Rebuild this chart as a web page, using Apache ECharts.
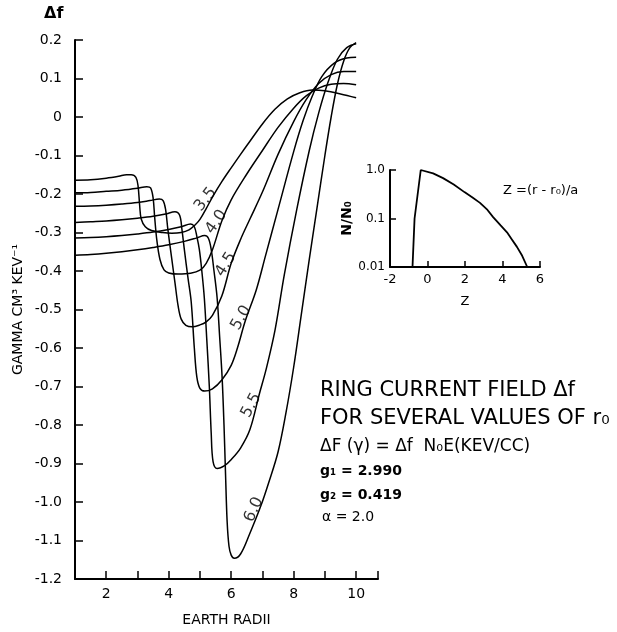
<!DOCTYPE html>
<html><head><meta charset="utf-8">
<script src="https://cdn.jsdelivr.net/npm/echarts@6/dist/echarts.min.js"></script>
<style>html,body{margin:0;padding:0;background:#fff}#c{width:617px;height:632px}</style>
</head><body><div id="c"></div>
<script>
// ---- data ----
const r0Values = ['3.5', '4.0', '4.5', '5.0', '5.5', '6.0'];

const x35 = [1, 1.5, 2.0, 2.4, 2.65, 2.8, 2.95, 3.02, 3.07, 3.12, 3.25, 3.45, 3.8, 4.1, 4.4, 4.65, 4.85, 5.0, 5.2, 5.4, 5.7, 6.0, 6.3, 6.6, 7.0, 7.4, 7.8, 8.2, 8.6, 9.0, 9.5, 10.0];
const y35 = [-0.164, -0.163, -0.159, -0.154, -0.150, -0.150, -0.157, -0.18, -0.23, -0.265, -0.285, -0.295, -0.300, -0.302, -0.300, -0.293, -0.28, -0.266, -0.238, -0.208, -0.168, -0.132, -0.097, -0.063, -0.018, 0.020, 0.047, 0.063, 0.070, 0.068, 0.060, 0.050];

const x40 = [1, 1.5, 2.0, 2.5, 3.0, 3.3, 3.42, 3.5, 3.55, 3.62, 3.72, 3.85, 4.0, 4.3, 4.7, 5.0, 5.2, 5.4, 5.7, 6.0, 6.5, 7.0, 7.5, 8.0, 8.4, 8.8, 9.2, 9.6, 10];
const y40 = [-0.197, -0.196, -0.193, -0.19, -0.185, -0.181, -0.184, -0.21, -0.26, -0.32, -0.37, -0.397, -0.405, -0.408, -0.406, -0.398, -0.38, -0.345, -0.27, -0.215, -0.148, -0.087, -0.027, 0.023, 0.055, 0.075, 0.085, 0.087, 0.084];

const x45 = [1, 1.5, 2.0, 2.5, 3.0, 3.4, 3.7, 3.82, 3.9, 3.97, 4.1, 4.2, 4.3, 4.4, 4.55, 4.75, 5.0, 5.2, 5.4, 5.7, 6.0, 6.3, 6.6, 7.0, 7.5, 8.0, 8.4, 8.8, 9.2, 9.6, 10];
const y45 = [-0.232, -0.231, -0.229, -0.226, -0.222, -0.217, -0.213, -0.217, -0.24, -0.29, -0.37, -0.43, -0.49, -0.525, -0.541, -0.545, -0.54, -0.532, -0.515, -0.465, -0.38, -0.318, -0.265, -0.195, -0.097, -0.012, 0.045, 0.087, 0.11, 0.118, 0.118];

const x50 = [1, 1.5, 2.0, 2.5, 3.0, 3.5, 3.9, 4.2, 4.35, 4.42, 4.5, 4.62, 4.72, 4.82, 4.9, 5.0, 5.15, 5.4, 5.7, 6.0, 6.2, 6.45, 6.8, 7.1, 7.5, 8.0, 8.3, 8.6, 8.9, 9.3, 9.7, 10];
const y50 = [-0.274, -0.272, -0.27, -0.267, -0.263, -0.258, -0.252, -0.246, -0.255, -0.29, -0.344, -0.42, -0.48, -0.6, -0.675, -0.705, -0.712, -0.706, -0.683, -0.645, -0.6, -0.53, -0.45, -0.36, -0.24, -0.09, -0.01, 0.055, 0.105, 0.14, 0.153, 0.155];

const x55 = [1, 1.5, 2, 2.5, 3, 3.5, 4.0, 4.4, 4.7, 4.82, 4.9, 4.98, 5.06, 5.14, 5.22, 5.3, 5.36, 5.42, 5.55, 5.8, 6.0, 6.3, 6.6, 6.9, 7.12, 7.4, 7.7, 8.1, 8.5, 8.8, 9.1, 9.4, 9.7, 10];
const y55 = [-0.314, -0.313, -0.311, -0.308, -0.304, -0.299, -0.292, -0.285, -0.278, -0.285, -0.31, -0.344, -0.40, -0.47, -0.58, -0.70, -0.82, -0.895, -0.913, -0.905, -0.89, -0.86, -0.812, -0.72, -0.655, -0.555, -0.41, -0.24, -0.087, 0.01, 0.09, 0.15, 0.18, 0.19];

const x60 = [1, 1.5, 2, 2.5, 3, 3.5, 4, 4.5, 4.9, 5.15, 5.27, 5.36, 5.45, 5.55, 5.63, 5.71, 5.77, 5.82, 5.87, 5.93, 6.0, 6.1, 6.3, 6.58, 6.95, 7.2, 7.5, 7.75, 8.0, 8.25, 8.5, 8.75, 9.0, 9.2, 9.4, 9.6, 9.8, 10];
const y60 = [-0.359, -0.357, -0.354, -0.35, -0.345, -0.339, -0.332, -0.323, -0.314, -0.308, -0.315, -0.344, -0.40, -0.47, -0.57, -0.677, -0.80, -0.93, -1.05, -1.115, -1.138, -1.146, -1.135, -1.085, -1.01, -0.95, -0.87, -0.77, -0.65, -0.51, -0.37, -0.235, -0.1, 0.0, 0.085, 0.145, 0.18, 0.193];

// curve labels: level (Δf) on the rising branch where each r0 label sits, and its tilt
const labelLevels = [-0.222, -0.28, -0.39, -0.528, -0.755, -1.025];
const labelAngles = [52, 55, 58, 60, 62, 66];

// inset: N/N0 versus Z
const zValues = [-0.8, -0.69, -0.36, 0.3, 0.83, 1.4, 1.97, 2.4, 2.8, 3.2, 3.5, 3.9, 4.24, 4.5, 4.77, 5.05, 5.32];
const nRatio  = [0.01, 0.1, 1.0, 0.85, 0.68, 0.5, 0.35, 0.27, 0.21, 0.15, 0.107, 0.072, 0.052, 0.037, 0.026, 0.017, 0.01];

// tick labels
const xTickLabels = ['2', '4', '6', '8', '10'];
const yTickLabels = ['0.2', '0.1', '0', '-0.1', '-0.2', '-0.3', '-0.4', '-0.5', '-0.6', '-0.7', '-0.8', '-0.9', '-1.0', '-1.1', '-1.2'];
const zTickLabels = ['-2', '0', '2', '4', '6'];
const nTickLabels = ['0.01', '0.1', '1.0'];

// ---- build ----
const FONT = 'DejaVu Sans';
const xs = [x35, x40, x45, x50, x55, x60];
const ys = [y35, y40, y45, y50, y55, y60];

function pair(a, b) { return a.map((v, i) => [v, b[i]]); }
function findLabel(list, v) {
  const hit = list.find(s => Math.abs(parseFloat(s) - v) < 1e-6);
  return hit === undefined ? '' : hit;
}
function labelPoint(xArr, yArr, level) {
  let iMin = 0;
  for (let i = 1; i < yArr.length; i++) if (yArr[i] < yArr[iMin]) iMin = i;
  for (let i = iMin; i < yArr.length - 1; i++) {
    if (yArr[i] <= level && yArr[i + 1] >= level) {
      const t = (level - yArr[i]) / (yArr[i + 1] - yArr[i]);
      return [xArr[i] + t * (xArr[i + 1] - xArr[i]), level];
    }
  }
  return [xArr[iMin], level];
}

const curveSeries = r0Values.map((r, k) => ({
  name: 'r0 = ' + r,
  type: 'line',
  xAxisIndex: 0, yAxisIndex: 0,
  data: pair(xs[k], ys[k]),
  showSymbol: false,
  symbol: 'none',
  smooth: 0.35,
  lineStyle: { color: '#000', width: 1.5 },
  silent: true,
  z: 2
}));

const labelSeries = {
  type: 'scatter',
  xAxisIndex: 0, yAxisIndex: 0,
  symbol: 'circle', symbolSize: 1,
  itemStyle: { color: 'rgba(0,0,0,0)' },
  silent: true,
  z: 5,
  data: r0Values.map((r, k) => ({
    name: r,
    value: labelPoint(xs[k], ys[k], labelLevels[k]),
    label: {
      show: true, formatter: r, rotate: labelAngles[k],
      position: 'inside', offset: [0, -5],
      fontFamily: FONT, fontSize: 16, color: '#000'
    }
  }))
};

const insetSeries = {
  type: 'line',
  xAxisIndex: 1, yAxisIndex: 1,
  data: pair(zValues, nRatio),
  showSymbol: false, symbol: 'none',
  lineStyle: { color: '#000', width: 1.8 },
  silent: true
};

const axisLineStyle = { onZero: false, lineStyle: { color: '#000', width: 2 } };

const option = {
  animation: false,
  backgroundColor: '#fff',
  grid: [
    { left: 75, top: 40, width: 303, height: 546 },
    { left: 390, top: 170, width: 150, height: 97 }
  ],
  xAxis: [
    {
      gridIndex: 0, type: 'value', min: 1, max: 10.7, interval: 1,
      axisLine: axisLineStyle,
      axisTick: { show: true, inside: true, length: 8, lineStyle: { color: '#000', width: 1.5 } },
      splitLine: { show: false },
      axisLabel: {
        color: '#000', fontFamily: FONT, fontSize: 14, margin: 8,
        formatter: v => findLabel(xTickLabels, v)
      },
      name: 'EARTH RADII', nameLocation: 'middle', nameGap: 34,
      nameTextStyle: { color: '#000', fontFamily: FONT, fontSize: 14 }
    },
    {
      gridIndex: 1, type: 'value', min: -2, max: 6, interval: 2,
      axisLine: axisLineStyle,
      axisTick: { show: true, inside: true, length: 6, lineStyle: { color: '#000', width: 1.5 } },
      splitLine: { show: false },
      axisLabel: {
        color: '#000', fontFamily: FONT, fontSize: 13, margin: 6,
        formatter: v => findLabel(zTickLabels, v)
      },
      name: 'Z', nameLocation: 'middle', nameGap: 28,
      nameTextStyle: { color: '#000', fontFamily: FONT, fontSize: 13 }
    }
  ],
  yAxis: [
    {
      gridIndex: 0, type: 'value', min: -1.2, max: 0.2, interval: 0.1,
      axisLine: axisLineStyle,
      axisTick: { show: true, inside: true, length: 8, lineStyle: { color: '#000', width: 1.5 } },
      splitLine: { show: false },
      axisLabel: {
        color: '#000', fontFamily: FONT, fontSize: 14, margin: 13,
        formatter: v => findLabel(yTickLabels, Math.round(v * 10) / 10)
      },
      name: 'GAMMA CM³ KEV⁻¹', nameLocation: 'middle', nameRotate: 90, nameGap: 50,
      nameTextStyle: { color: '#000', fontFamily: FONT, fontSize: 14 }
    },
    {
      gridIndex: 1, type: 'log', logBase: 10, min: 0.01, max: 1,
      axisLine: axisLineStyle,
      axisTick: { show: true, inside: true, length: 6, lineStyle: { color: '#000', width: 1.5 } },
      splitLine: { show: false },
      minorTick: { show: false },
      axisLabel: {
        color: '#000', fontFamily: FONT, fontSize: 12, margin: 5,
        formatter: v => findLabel(nTickLabels, v)
      },
      name: 'N/N₀', nameLocation: 'middle', nameRotate: 90, nameGap: 34,
      nameTextStyle: { color: '#000', fontFamily: FONT, fontSize: 14, fontWeight: 'bold' }
    }
  ],
  graphic: [
    { type: 'text', left: 44, top: 6, style: { text: 'Δf', font: 'bold 16px "DejaVu Sans"', fill: '#000' } },
    { type: 'text', left: 503, top: 184, style: { text: 'Z =(r - r₀)/a', font: '13px "DejaVu Sans"', fill: '#000' } },
    { type: 'text', left: 320, top: 380, style: { text: 'RING CURRENT FIELD Δf', font: '21px "DejaVu Sans"', fill: '#000' } },
    { type: 'text', left: 320, top: 408, style: { text: 'FOR SEVERAL VALUES OF r₀', font: '21px "DejaVu Sans"', fill: '#000' } },
    { type: 'text', left: 320, top: 438, style: { text: 'ΔF (γ) = Δf  N₀E(KEV/CC)', font: '17px "DejaVu Sans"', fill: '#000' } },
    { type: 'text', left: 320, top: 464, style: { text: 'g₁ = 2.990', font: 'bold 14px "DejaVu Sans"', fill: '#000' } },
    { type: 'text', left: 320, top: 488, style: { text: 'g₂ = 0.419', font: 'bold 14px "DejaVu Sans"', fill: '#000' } },
    { type: 'text', left: 322, top: 510, style: { text: 'α = 2.0', font: '14px "DejaVu Sans"', fill: '#000' } }
  ],
  series: [...curveSeries, labelSeries, insetSeries]
};

const chart = echarts.init(document.getElementById('c'), null, { renderer: 'canvas' });
chart.setOption(option);
</script>
</body></html>
